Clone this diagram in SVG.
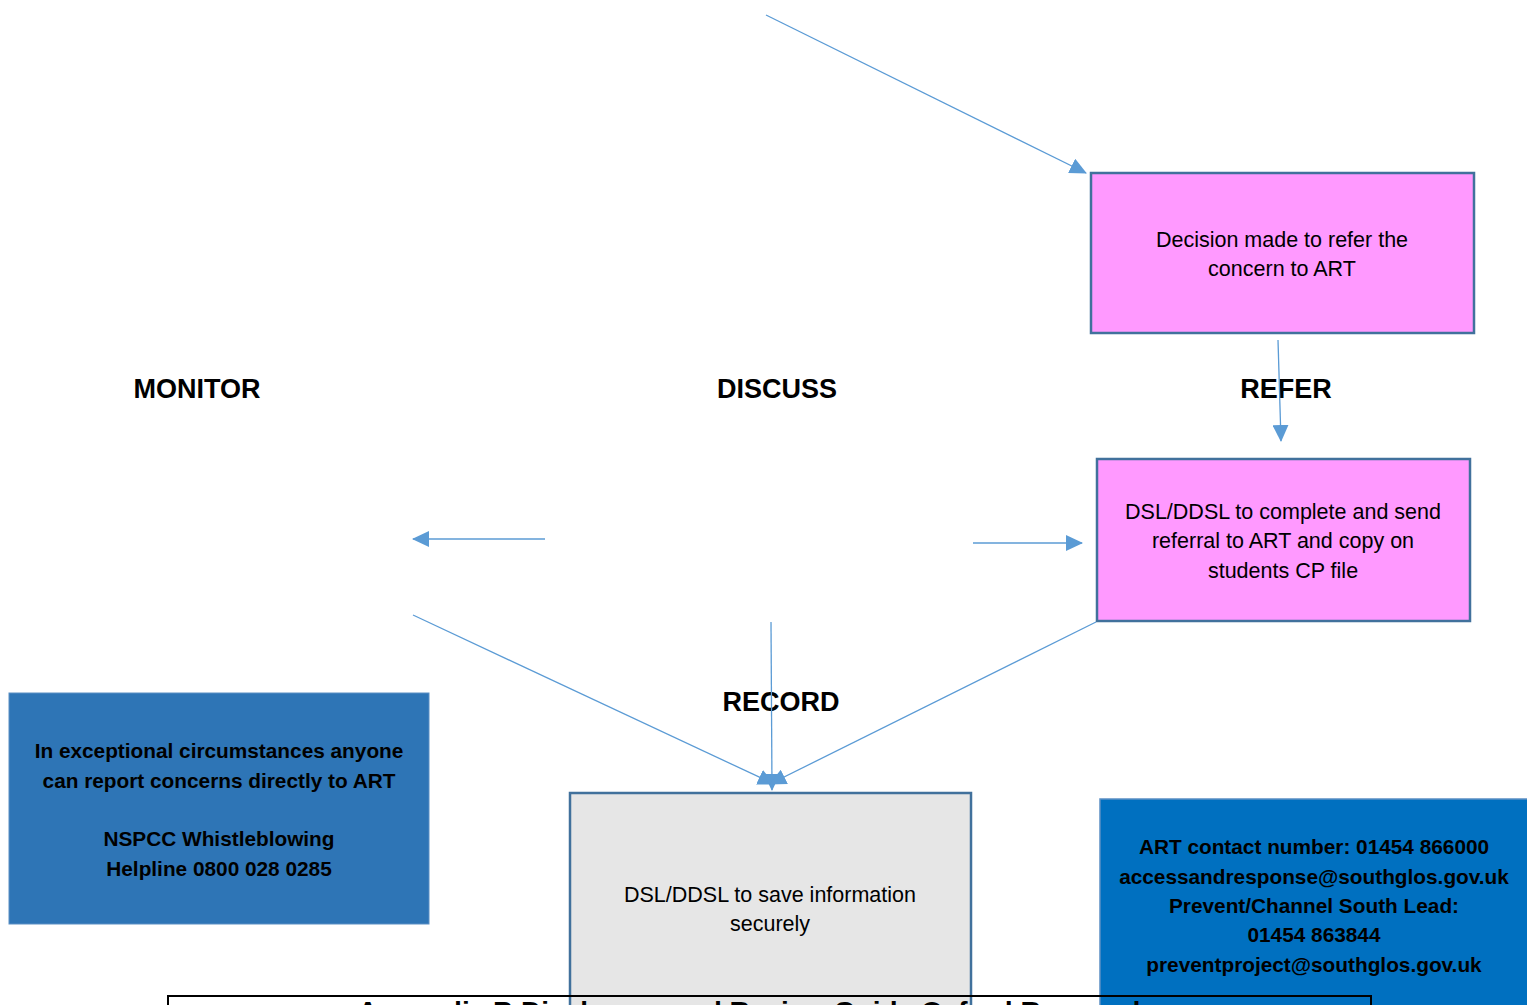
<svg xmlns="http://www.w3.org/2000/svg" width="1527" height="1005" viewBox="0 0 1527 1005">
<style>
.conn{stroke:#5B9BD5;stroke-width:1.3;fill:none;marker-end:url(#ah)}
.node{stroke:#41719C;stroke-width:2.5}
.t{font-family:"Liberation Sans",Arial,sans-serif;font-size:21.5px;fill:#000;text-anchor:middle}
.b{font-family:"Liberation Sans",Arial,sans-serif;font-weight:bold;font-size:20.8px;fill:#000;text-anchor:middle}
.lbl{font-family:"Liberation Sans",Arial,sans-serif;font-weight:bold;font-size:27px;fill:#000;text-anchor:middle}
</style>
<defs>
<marker id="ah" markerWidth="17" markerHeight="16" refX="16" refY="8" orient="auto" markerUnits="userSpaceOnUse">
<path d="M0,0 L17,8 L0,16 Z" fill="#5B9BD5"/>
</marker>
</defs>
<rect width="1527" height="1005" fill="#fff"/>
<g id="labels">
<text class="lbl" x="197" y="398">MONITOR</text>
<text class="lbl" x="777" y="398">DISCUSS</text>
<text class="lbl" x="1286" y="398">REFER</text>
<text class="lbl" x="781" y="711">RECORD</text>
</g>
<g id="node-decision">
<rect class="node" x="1091" y="173" width="383" height="160" fill="#FF99FF"/>
<text class="t" x="1282" y="247">Decision made to refer the</text>
<text class="t" x="1282" y="276">concern to ART</text>
</g>
<g id="node-referral">
<rect class="node" x="1097" y="459" width="373" height="162" fill="#FF99FF"/>
<text class="t" x="1283" y="519">DSL/DDSL to complete and send</text>
<text class="t" x="1283" y="548">referral to ART and copy on</text>
<text class="t" x="1283" y="578">students CP file</text>
</g>
<g id="node-exceptional">
<rect x="9" y="693" width="420" height="231" fill="#2E75B6" stroke="#5B8FC4" stroke-width="1"/>
<text class="b" x="219" y="758">In exceptional circumstances anyone</text>
<text class="b" x="219" y="788">can report concerns directly to ART</text>
<text class="b" x="219" y="846">NSPCC Whistleblowing</text>
<text class="b" x="219" y="876">Helpline 0800 028 0285</text>
</g>
<g id="node-record">
<rect class="node" x="570" y="793" width="401" height="230" fill="#E6E6E6"/>
<text class="t" x="770" y="902">DSL/DDSL to save information</text>
<text class="t" x="770" y="931">securely</text>
</g>
<g id="node-contact">
<rect x="1100" y="799" width="440" height="220" fill="#0070C0" stroke="#5B8FC4" stroke-width="1.5"/>
<text class="b" x="1314" y="854">ART contact number: 01454 866000</text>
<text class="b" x="1314" y="884">accessandresponse@southglos.gov.uk</text>
<text class="b" x="1314" y="913">Prevent/Channel South Lead:</text>
<text class="b" x="1314" y="942">01454 863844</text>
<text class="b" x="1314" y="972">preventproject@southglos.gov.uk</text>
</g>
<g id="title">
<rect x="168" y="996" width="1203" height="40" fill="none" stroke="#000" stroke-width="2"/>
<text x="770" y="1021" font-family="'Liberation Sans',Arial,sans-serif" font-weight="bold" font-size="28" text-anchor="middle">Appendix B Disclosure and Review Guide Oxford Responders</text>
</g>
<g id="connectors">
<line class="conn" x1="766" y1="15" x2="1086" y2="173"/>
<line class="conn" x1="1278" y1="340" x2="1281" y2="441"/>
<line class="conn" x1="545" y1="539" x2="413" y2="539"/>
<line class="conn" x1="973" y1="543" x2="1082" y2="543"/>
<line class="conn" x1="413" y1="615" x2="774" y2="784"/>
<line class="conn" x1="771" y1="622" x2="772" y2="790"/>
<line class="conn" x1="1096" y1="622" x2="770" y2="784"/>
</g>
</svg>
